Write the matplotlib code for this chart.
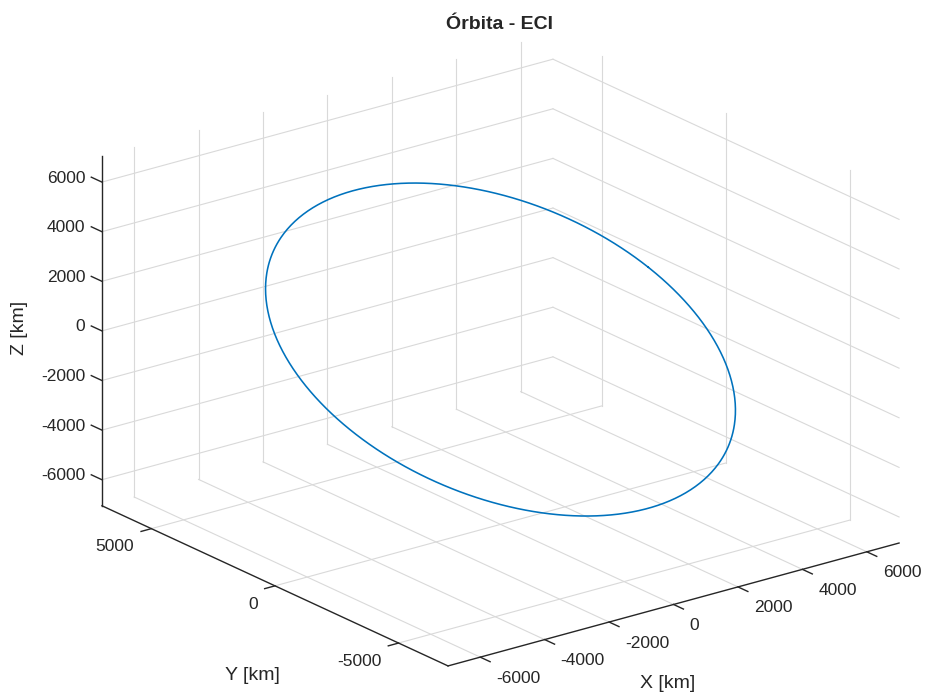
import numpy as np
import matplotlib
matplotlib.use('Agg')
import matplotlib.pyplot as plt
from mpl_toolkits.mplot3d import Axes3D  # noqa: F401

# ---------------- data ----------------
R_ORBIT_KM = 6770.0          # circular orbit radius
INCLINATION_DEG = 38.0       # orbit inclination
RAAN_DEG = 20.0              # right ascension of ascending node
ARG_LAT_DEG = np.arange(0.0, 360.5, 0.5)   # sampling of the argument of latitude

X_TICKS = [-6000, -4000, -2000, 0, 2000, 4000, 6000]
Y_TICKS = [-5000, 0, 5000]
Z_TICKS = [-6000, -4000, -2000, 0, 2000, 4000, 6000]
X_LIM = (-7000, 7000)
Y_LIM = (-7000, 7000)
Z_LIM = (-7050, 7050)

TITLE = 'Órbita - ECI'
X_LABEL = 'X [km]'
Y_LABEL = 'Y [km]'
Z_LABEL = 'Z [km]'

# ---------------- orbit in ECI ----------------
u = np.radians(ARG_LAT_DEG)
inc = np.radians(INCLINATION_DEG)
raan = np.radians(RAAN_DEG)
orb_x = R_ORBIT_KM * (np.cos(raan) * np.cos(u) - np.sin(raan) * np.cos(inc) * np.sin(u))
orb_y = R_ORBIT_KM * (np.sin(raan) * np.cos(u) + np.cos(raan) * np.cos(inc) * np.sin(u))
orb_z = R_ORBIT_KM * (np.sin(inc) * np.sin(u))

# ---------------- style ----------------
W, H = 925, 695
FONT = ['Liberation Sans', 'DejaVu Sans']
TXT = '#262626'
GRID = '#d9d9d9'
AXC = '#262626'
LINE = '#0072BD'
TICK_FS = 12.5
LABEL_FS = 14

plt.rcParams['font.family'] = FONT

fig = plt.figure(figsize=(W / 100, H / 100), dpi=100)
ax = fig.add_axes([0.05, 0.05, 0.9, 0.9], projection='3d', proj_type='ortho')
ax.computed_zorder = False

xmin, xmax = X_LIM
ymin, ymax = Y_LIM
zmin, zmax = Z_LIM

# grid on back walls and floor
for xt in X_TICKS:
    ax.plot([xt, xt], [ymin, ymax], [zmin, zmin], color=GRID, lw=0.8, zorder=1)
    ax.plot([xt, xt], [ymax, ymax], [zmin, zmax], color=GRID, lw=0.8, zorder=1)
for yt in Y_TICKS:
    ax.plot([xmin, xmax], [yt, yt], [zmin, zmin], color=GRID, lw=0.8, zorder=1)
    ax.plot([xmax, xmax], [yt, yt], [zmin, zmax], color=GRID, lw=0.8, zorder=1)
for zt in Z_TICKS:
    ax.plot([xmin, xmax], [ymax, ymax], [zt, zt], color=GRID, lw=0.8, zorder=1)
    ax.plot([xmax, xmax], [ymin, ymax], [zt, zt], color=GRID, lw=0.8, zorder=1)

# axis lines
ax.plot([xmin, xmax], [ymin, ymin], [zmin, zmin], color=AXC, lw=1.0, zorder=2)
ax.plot([xmin, xmin], [ymin, ymax], [zmin, zmin], color=AXC, lw=1.0, zorder=2)
ax.plot([xmin, xmin], [ymax, ymax], [zmin, zmax], color=AXC, lw=1.0, zorder=2)

# tick marks
XT_LEN, YT_LEN, ZT_LEN = 400, 320, 430
for xt in X_TICKS:
    ax.plot([xt, xt], [ymin, ymin - XT_LEN], [zmin, zmin], color=AXC, lw=1.0, zorder=2)
for yt in Y_TICKS:
    ax.plot([xmin, xmin - YT_LEN], [yt, yt], [zmin, zmin], color=AXC, lw=1.0, zorder=2)
for zt in Z_TICKS:
    ax.plot([xmin, xmin], [ymax, ymax + ZT_LEN], [zt, zt], color=AXC, lw=1.0, zorder=2)

# orbit
ax.plot(orb_x, orb_y, orb_z, color=LINE, lw=1.15, zorder=3)

ax.set_xlim(X_LIM)
ax.set_ylim(Y_LIM)
ax.set_zlim(Z_LIM)
ax.set_box_aspect((1, 1, 0.658))
ax.view_init(elev=20.8, azim=-127.5)
ax.set_axis_off()


def project(xs, ys, zs):
    xs, ys, zs = (np.atleast_1d(np.asarray(v, dtype=float)) for v in (xs, ys, zs))
    M = ax.get_proj()
    vec = np.vstack([xs, ys, zs, np.ones_like(xs)])
    w = M @ vec
    pts = np.column_stack([w[0] / w[3], w[1] / w[3]])
    return ax.transData.transform(pts)


# fit the axes so the box lands where the reference box is
fig.canvas.draw()
targets = np.array([[448.0, H - 666.0], [900.0, H - 541.0], [101.0, H - 158.0]])
P = project([xmin, xmax, xmin], [ymin, ymin, ymax], [zmin, zmin, zmax])
bb = ax.bbox
C = np.array([(bb.x0 + bb.x1) / 2, (bb.y0 + bb.y1) / 2])
L = bb.width
uu = (P - C) / L
A = []
b = []
for (ux, uy), (tx, ty) in zip(uu, targets):
    A.append([1, 0, ux]); b.append(tx)
    A.append([0, 1, uy]); b.append(ty)
sol, *_ = np.linalg.lstsq(np.array(A), np.array(b), rcond=None)
cx, cy, Ln = sol
ax.set_position([(cx - Ln / 2) / W, (cy - Ln / 2) / H, Ln / W, Ln / H])
fig.canvas.draw()


def put(px, py, s, **kw):
    fig.text(px / W, py / H, s, color=TXT, **kw)


# tick labels
pts = project(X_TICKS, [ymin - XT_LEN] * len(X_TICKS), [zmin] * len(X_TICKS))
for v, (px, py) in zip(X_TICKS, pts):
    put(px + 6, py - 9, f'{v}', ha='left', va='top', fontsize=TICK_FS)
pts = project([xmin - YT_LEN] * len(Y_TICKS), Y_TICKS, [zmin] * len(Y_TICKS))
for v, (px, py) in zip(Y_TICKS, pts):
    put(px - 7, py - 8, f'{v}', ha='right', va='top', fontsize=TICK_FS)
pts = project([xmin] * len(Z_TICKS), [ymax + ZT_LEN] * len(Z_TICKS), Z_TICKS)
for v, (px, py) in zip(Z_TICKS, pts):
    put(px - 6, py - 1, f'{v}', ha='right', va='center', fontsize=TICK_FS)

# axis labels and title
put(20, H - 328, Z_LABEL, ha='center', va='center', rotation=90, fontsize=LABEL_FS)
put(252, H - 676, Y_LABEL, ha='center', va='center', fontsize=LABEL_FS)
put(668, H - 684, X_LABEL, ha='center', va='center', fontsize=LABEL_FS)
put(500, H - 29, TITLE, ha='center', va='baseline', fontsize=LABEL_FS, fontweight='bold')

fig.savefig('out.png', dpi=100)
